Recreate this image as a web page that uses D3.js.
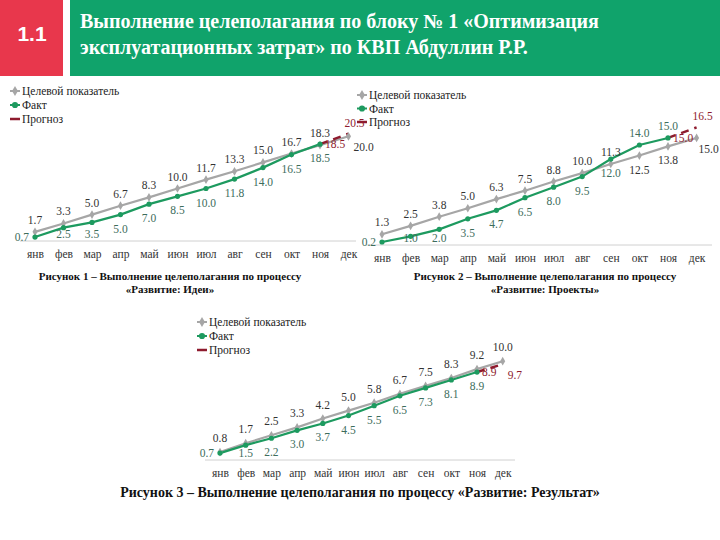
<!DOCTYPE html>
<html><head><meta charset="utf-8">
<script src="https://cdn.jsdelivr.net/npm/d3@7"></script>
<style>body{margin:0;background:#fff}svg{display:block}</style>
</head><body>
<svg id="c" width="720" height="540"></svg>
<script>
const months = ["янв","фев","мар","апр","май","июн","июл","авг","сен","окт","ноя","дек"];
const legendLabels = ["Целевой показатель","Факт","Прогноз"];
const headerNum = "1.1";
const headerTitle = ["Выполнение целеполагания по блоку № 1 «Оптимизация","эксплуатационных затрат» по КВП Абдуллин Р.Р."];

// Chart 1 – Идеи
const ideasTarget = [1.7,3.3,5.0,6.7,8.3,10.0,11.7,13.3,15.0,16.7,18.3,20.0];
const ideasFact = [0.7,2.5,3.5,5.0,7.0,8.5,10.0,11.8,14.0,16.5,18.5];
const ideasForecast = [18.5,20.5]; // ноя, дек
const ideasCaption = ["Рисунок 1 – Выполнение целеполагания по процессу","«Развитие: Идеи»"];

// Chart 2 – Проекты
const projTarget = [1.3,2.5,3.8,5.0,6.3,7.5,8.8,10.0,11.3,12.5,13.8,15.0];
const projFact = [0.2,1.0,2.0,3.5,4.7,6.5,8.0,9.5,12.0,14.0,15.0];
const projForecast = [15.0,16.5];
const projCaption = ["Рисунок 2 – Выполнение целеполагания по процессу","«Развитие: Проекты»"];

// Chart 3 – Результат
const resTarget = [0.8,1.7,2.5,3.3,4.2,5.0,5.8,6.7,7.5,8.3,9.2,10.0];
const resFact = [0.7,1.5,2.2,3.0,3.7,4.5,5.5,6.5,7.3,8.1,8.9];
const resForecast = [8.9,9.7];
const resCaption = ["Рисунок 3 – Выполнение целеполагания по процессу «Развитие: Результат»"];

const GRAY="#a6a6a6", GREEN="#1d9a5f", RED="#8e1b2e";
const SERIF="Liberation Serif, Times New Roman, DejaVu Serif, serif";
const svg = d3.select("#c");

// header
svg.append("rect").attr("x",0).attr("y",0).attr("width",63).attr("height",76).attr("fill","#e8374c");
svg.append("rect").attr("x",70).attr("y",0).attr("width",650).attr("height",76).attr("fill","#10a36b");
svg.append("text").attr("x",32).attr("y",41).attr("text-anchor","middle").attr("fill","#fff")
  .style("font-family","Liberation Sans, Arial, sans-serif").attr("font-weight","bold").attr("font-size",21).text(headerNum);
headerTitle.forEach((t,i)=>svg.append("text").attr("x",80).attr("y",28+i*26).attr("fill","#fff")
  .style("font-family",SERIF).attr("font-weight","bold").attr("font-size",20).text(t));

function chart(cfg){
  const g = svg.append("g");
  const x = d3.scalePoint().domain(months).range([cfg.x0, cfg.x0+11*cfg.step]);
  const y = d3.scaleLinear().domain([0,cfg.ymax]).range([cfg.y0, cfg.y0-cfg.ymax*cfg.ppu]);
  const ax = g.append("g").attr("transform",`translate(0,${cfg.axisY})`)
    .call(d3.axisBottom(x).tickSize(0).tickPadding(cfg.tickPad));
  ax.select(".domain").remove();
  ax.append("line").attr("x1",cfg.axX1).attr("x2",cfg.axX2).attr("stroke","#d0d0d0").attr("stroke-width",1);
  ax.selectAll("text").style("font-family",SERIF).attr("font-size",11.5).attr("fill","#333");

  const line = d3.line().x(d=>x(d.m)).y(d=>y(d.v));
  const tgt = cfg.target.map((v,i)=>({m:months[i],v,i}));
  const fct = cfg.fact.map((v,i)=>({m:months[i],v,i}));
  const fc = cfg.forecast.map((v,i)=>({m:months[10+i],v,i}));
  g.append("path").datum(tgt).attr("d",line).attr("fill","none").attr("stroke",GRAY).attr("stroke-width",2.2);
  g.append("path").datum(fct).attr("d",line).attr("fill","none").attr("stroke",GREEN).attr("stroke-width",2.2);
  g.append("path").datum(fc).attr("d",line).attr("fill","none").attr("stroke",RED).attr("stroke-width",2.5).attr("stroke-dasharray","8,6");
  g.selectAll(".tm").data(tgt).join("path").attr("d",d3.symbol(d3.symbolDiamond,22))
    .attr("transform",d=>`translate(${x(d.m)},${y(d.v)})`).attr("fill",GRAY);
  g.selectAll(".fm").data(fct).join("circle").attr("cx",d=>x(d.m)).attr("cy",d=>y(d.v)).attr("r",2.6).attr("fill",GREEN);

  function lbl(px,py,pos,val,col){
    let dx=0,dy=0,anchor="middle";
    if(pos==="above"){dy=-cfg.up;}
    else if(pos==="below"){dy=Math.min(cfg.down, cfg.axisY-3-py);}
    else if(pos==="left"){dx=-6;anchor="end";dy=4;}
    else if(pos==="right"){dx=5;anchor="start";dy=4;}
    else if(pos==="rightbelow"){dx=cfg.rbdx;anchor="start";dy=15;}
    else if(pos==="aboveright"){dx=6;dy=-7;}
    g.append("text").attr("x",px+dx).attr("y",py+dy).attr("text-anchor",anchor)
      .style("font-family",SERIF).attr("font-size",11.5).attr("fill",col).text(val.toFixed(1));
  }
  const factAbove = i => cfg.fact[i]-cfg.target[i] > 1.0;
  tgt.forEach(d=>{
    let pos;
    if(d.i===11) pos=cfg.lastTargetPos;
    else pos = factAbove(d.i) ? "below":"above";
    lbl(x(d.m),y(d.v),pos,d.v,"#333");
  });
  fct.forEach(d=>{
    let pos = factAbove(d.i) ? "above":"below";
    if(d.i===0) pos="left";
    lbl(x(d.m),y(d.v),pos,d.v,"#3d6d5c");
  });
  fc.forEach(d=>lbl(x(d.m),y(d.v), d.i===0?"right":cfg.lastForecastPos, d.v, RED));

  const lg = g.append("g").attr("transform",`translate(${cfg.lx},${cfg.ly})`);
  legendLabels.forEach((t,i)=>{
    const yy=i*cfg.lgap;
    if(i<2){
      lg.append("line").attr("x1",0).attr("x2",10).attr("y1",yy).attr("y2",yy).attr("stroke",i?GREEN:GRAY).attr("stroke-width",2);
      lg.append("path").attr("d",d3.symbol(i?d3.symbolCircle:d3.symbolDiamond,30)).attr("transform",`translate(5,${yy})`).attr("fill",i?GREEN:GRAY);
    } else {
      lg.append("line").attr("x1",0).attr("x2",10).attr("y1",yy).attr("y2",yy).attr("stroke",RED).attr("stroke-width",2.5);
    }
    lg.append("text").attr("x",12).attr("y",yy+4).style("font-family",SERIF).attr("font-size",11.5).attr("fill","#222").text(t);
  });
  cfg.caption.forEach((t,i)=>svg.append("text").attr("x",cfg.cx).attr("y",cfg.cy+i*13).attr("text-anchor","middle")
    .style("font-family",SERIF).attr("font-weight","bold").attr("font-size",cfg.cfs).attr("fill","#111").text(t));
}

chart({target:ideasTarget,fact:ideasFact,forecast:ideasForecast,caption:ideasCaption,
  x0:35,step:28.5,y0:240.7,ppu:5.22,ymax:25,axisY:241,axX1:20,axX2:356,tickPad:9,
  up:8,down:18,rbdx:5,lastTargetPos:"rightbelow",lastForecastPos:"aboveright",
  lx:10,ly:91,lgap:14,cx:170,cy:280,cfs:11});
chart({target:projTarget,fact:projFact,forecast:projForecast,caption:projCaption,
  x0:382,step:28.6,y0:243.4,ppu:7.03,ymax:20,axisY:245,axX1:366,axX2:712,tickPad:9,
  up:8,down:18,rbdx:2,lastTargetPos:"rightbelow",lastForecastPos:"aboveright",
  lx:357,ly:95,lgap:13.5,cx:545,cy:280,cfs:11});
chart({target:resTarget,fact:resFact,forecast:resForecast,caption:resCaption,
  x0:220,step:25.7,y0:460,ppu:9.88,ymax:12,axisY:460,axX1:205,axX2:515,tickPad:9,
  up:10,down:18,rbdx:5,lastTargetPos:"above",lastForecastPos:"rightbelow",
  lx:197,ly:322,lgap:14,cx:360,cy:497,cfs:14});
</script>
</body></html>
